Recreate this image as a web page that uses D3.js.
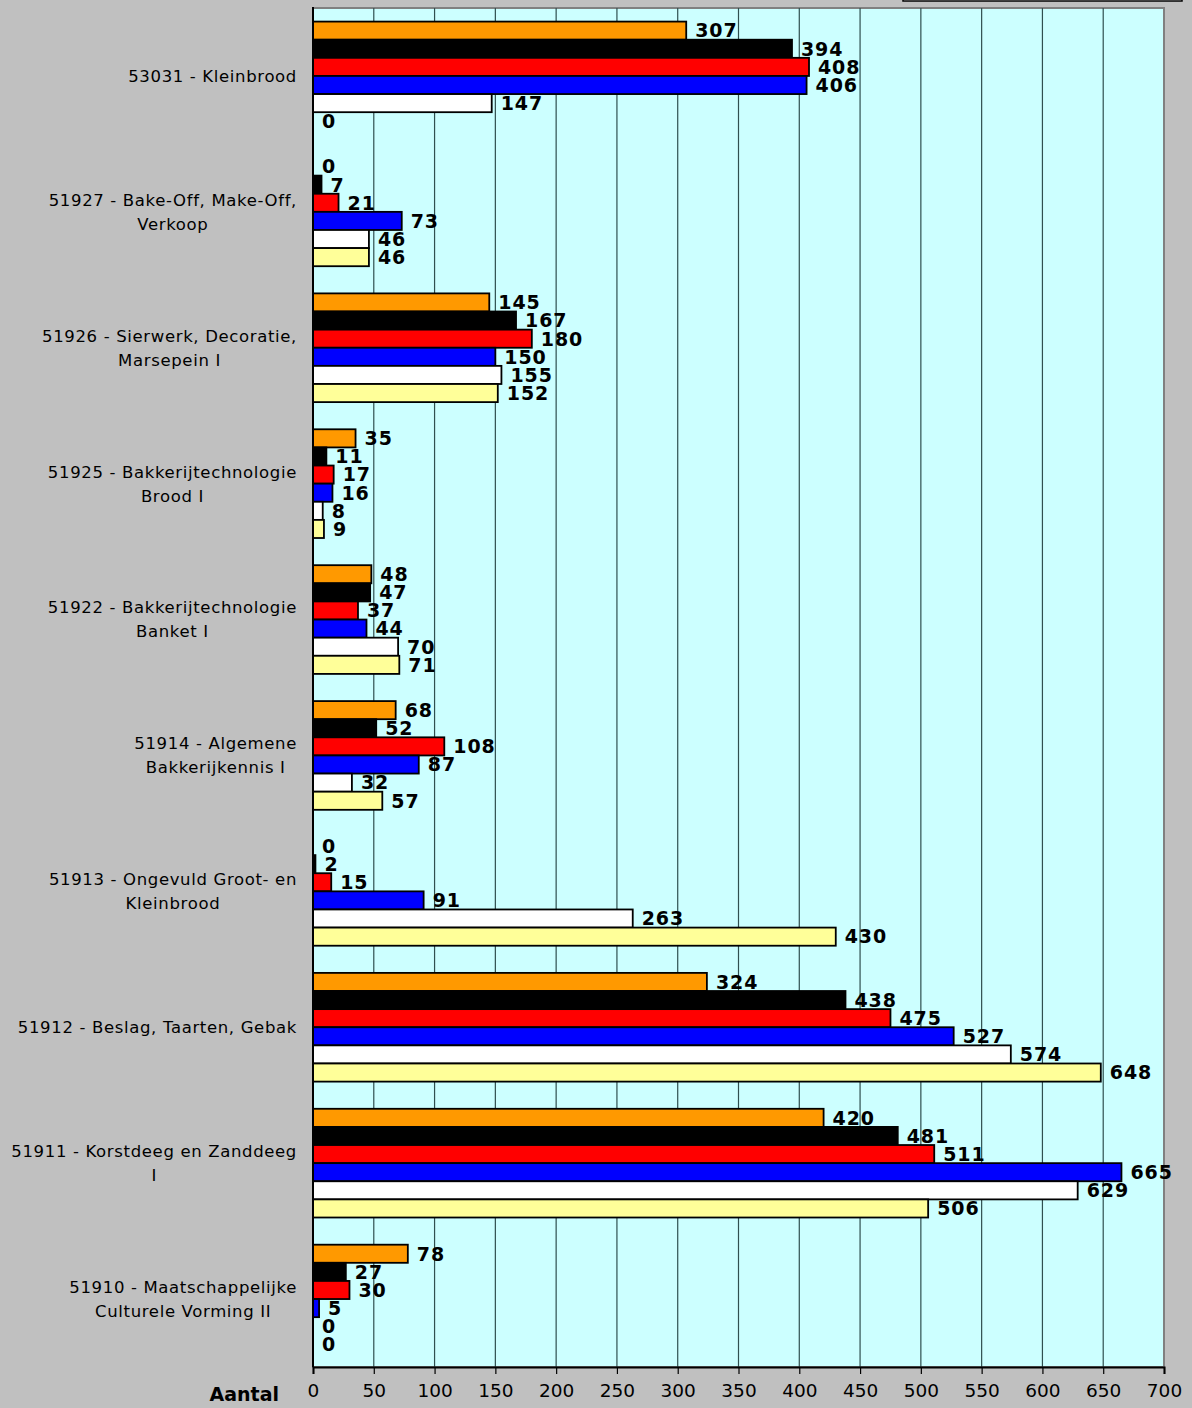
<!DOCTYPE html>
<html><head><meta charset="utf-8">
<script src="https://cdn.jsdelivr.net/npm/d3@7"></script>
<style>body{margin:0;background:#c0c0c0;}svg{display:block;}</style>
</head><body>
<svg id="c" width="1192" height="1408"></svg>
<script>
const categories = [
  ["53031 - Kleinbrood"],
  ["51927 - Bake-Off, Make-Off,", "Verkoop"],
  ["51926 - Sierwerk, Decoratie,", "Marsepein I"],
  ["51925 - Bakkerijtechnologie", "Brood I"],
  ["51922 - Bakkerijtechnologie", "Banket I"],
  ["51914 - Algemene", "Bakkerijkennis I"],
  ["51913 - Ongevuld Groot- en", "Kleinbrood"],
  ["51912 - Beslag, Taarten, Gebak"],
  ["51911 - Korstdeeg en Zanddeeg", "I"],
  ["51910 - Maatschappelijke", "Culturele Vorming II"]
];
const series1 = [307, 0, 145, 35, 48, 68, 0, 324, 420, 78];
const series2 = [394, 7, 167, 11, 47, 52, 2, 438, 481, 27];
const series3 = [408, 21, 180, 17, 37, 108, 15, 475, 511, 30];
const series4 = [406, 73, 150, 16, 44, 87, 91, 527, 665, 5];
const series5 = [147, 46, 155, 8, 70, 32, 263, 574, 629, 0];
const series6 = [0, 46, 152, 9, 71, 57, 430, 648, 506, 0];
const seriesColors = ["#ff9900", "#000000", "#ff0000", "#0000ff", "#ffffff", "#ffff99"];
const xTicks = [0,50,100,150,200,250,300,350,400,450,500,550,600,650,700];
const axisTitle = "Aantal";

const allSeries = [series1, series2, series3, series4, series5, series6];
const svg = d3.select("#c");
const L = 313, R = 1164, T = 8, B = 1367;

const x = d3.scaleLinear().domain([0, 700]).range([L, R]);
const y = d3.scaleBand().domain(d3.range(categories.length)).range([T, B]).paddingInner(0.2).paddingOuter(0.1);
const ySub = d3.scaleBand().domain(d3.range(6)).range([0, y.bandwidth()]);

// legend remnant at top
svg.append("rect").attr("x", 903).attr("y", -20).attr("width", 279).attr("height", 21)
  .attr("fill", "#ffffff").attr("stroke", "#000").attr("stroke-width", 1.5);

// plot area
svg.append("rect").attr("x", L).attr("y", T).attr("width", R - L).attr("height", B - T)
  .attr("fill", "#ccffff").attr("stroke", "#808080").attr("stroke-width", 2);

// gridlines
svg.append("g").selectAll("line").data(xTicks.filter(d => d > 0 && d < 700)).join("line")
  .attr("x1", d => x(d)).attr("x2", d => x(d)).attr("y1", T).attr("y2", B)
  .attr("stroke", "#2f4f4f").attr("stroke-width", 1.2);

// bars
const groups = svg.append("g").selectAll("g").data(categories).join("g")
  .attr("transform", (d, i) => `translate(0,${y(i)})`);
groups.each(function(d, i) {
  const g = d3.select(this);
  allSeries.forEach((s, k) => {
    const v = s[i];
    if (v > 0) {
      g.append("rect").attr("x", x(0)).attr("y", ySub(k))
        .attr("width", x(v) - x(0)).attr("height", ySub.bandwidth())
        .attr("fill", seriesColors[k]).attr("stroke", "#000").attr("stroke-width", 1.8);
    }
    g.append("text").attr("x", x(v) + 9).attr("y", ySub(k) + ySub.bandwidth() / 2)
      .attr("dy", "0.36em").attr("font-family", "DejaVu Sans").attr("font-weight", "bold")
      .attr("font-size", 19).attr("letter-spacing", 0.9).attr("fill", "#000").text(v);
  });
});

// left axis and bottom axis
svg.append("line").attr("x1", L).attr("x2", L).attr("y1", T - 1).attr("y2", B).attr("stroke", "#000").attr("stroke-width", 2);
const xAxis = svg.append("g").attr("transform", `translate(0,${B})`)
  .call(d3.axisBottom(x).tickValues(xTicks).tickSize(7).tickPadding(10));
xAxis.select(".domain").attr("stroke", "#000").attr("stroke-width", 2);
xAxis.selectAll(".tick line").attr("stroke", "#000").attr("stroke-width", 1.2);
xAxis.selectAll("text").attr("font-family", "DejaVu Sans").attr("font-size", 18.5).attr("fill", "#000");

svg.append("text").attr("x", 279).attr("y", 1394).attr("dy", "0.36em").attr("text-anchor", "end")
  .attr("font-family", "DejaVu Sans").attr("font-weight", "bold").attr("font-size", 19).text(axisTitle);

// category labels
categories.forEach((lines, i) => {
  const cy = y(i) + y.bandwidth() / 2;
  const g = svg.append("g");
  const texts = lines.map((t, j) => g.append("text")
    .attr("y", cy + (j - (lines.length - 1) / 2) * 24).attr("dy", "0.36em")
    .attr("font-family", "DejaVu Sans").attr("font-size", 16.5).attr("letter-spacing", 0.65).attr("fill", "#000")
    .attr("text-anchor", "middle").text(t));
  const w = d3.max(texts, t => t.node().getComputedTextLength());
  texts.forEach(t => t.attr("x", 297 - w / 2));
});
</script>
</body></html>
